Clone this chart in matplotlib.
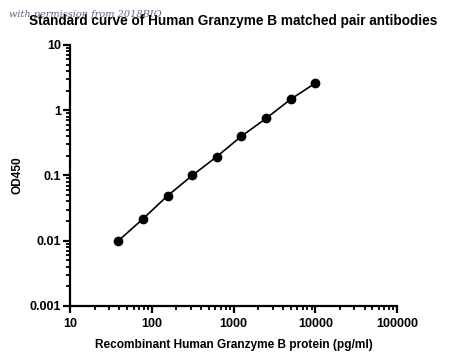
import matplotlib
matplotlib.use("Agg")
import matplotlib.pyplot as plt
from matplotlib.ticker import FixedLocator, FixedFormatter, LogLocator, NullFormatter

# standard curve data (2-fold dilution from 10000 pg/ml)
conc = [39.06, 78.13, 156.25, 312.5, 625, 1250, 2500, 5000, 10000]
od450 = [0.0100, 0.0217, 0.049, 0.100, 0.195, 0.40, 0.75, 1.47, 2.60]

x_ticks = [10, 100, 1000, 10000, 100000]
x_labels = ["10", "100", "1000", "10000", "100000"]
y_ticks = [0.001, 0.01, 0.1, 1, 10]
y_labels = ["0.001", "0.01", "0.1", "1", "10"]

plt.rcParams["font.family"] = ["Liberation Sans", "DejaVu Sans"]

fig = plt.figure(figsize=(4.5, 3.62), dpi=100)
ax = fig.add_axes([0.1556, 0.1547, 0.7267, 0.721])

ax.plot(conc, od450, color="black", linewidth=1.2, marker="o",
        markersize=6, markerfacecolor="black", markeredgecolor="black")

ax.set_xscale("log")
ax.set_yscale("log")
ax.set_xlim(10, 100000)
ax.set_ylim(0.001, 10)

ax.xaxis.set_major_locator(FixedLocator(x_ticks))
ax.xaxis.set_major_formatter(FixedFormatter(x_labels))
ax.yaxis.set_major_locator(FixedLocator(y_ticks))
ax.yaxis.set_major_formatter(FixedFormatter(y_labels))
ax.xaxis.set_minor_locator(LogLocator(base=10, subs=range(2, 10), numticks=20))
ax.yaxis.set_minor_locator(LogLocator(base=10, subs=range(2, 10), numticks=20))
ax.xaxis.set_minor_formatter(NullFormatter())
ax.yaxis.set_minor_formatter(NullFormatter())

for side in ["top", "right"]:
    ax.spines[side].set_visible(False)
for side in ["left", "bottom"]:
    ax.spines[side].set_linewidth(1.6)

ax.tick_params(which="major", direction="out", length=5, width=1.6)
ax.tick_params(axis="x", which="major", pad=4)
ax.tick_params(axis="y", which="major", pad=1.5)
ax.tick_params(which="minor", direction="out", length=3, width=1.3)
for lbl in ax.get_xticklabels() + ax.get_yticklabels():
    lbl.set_fontsize(9)
    lbl.set_fontweight("bold")

ax.set_xlabel("Recombinant Human Granzyme B protein (pg/ml)",
              fontsize=8.6, fontweight="bold", labelpad=6)
ax.set_ylabel("OD450", fontsize=8.6, fontweight="bold", labelpad=4.5)

fig.text(0.518, 0.943, "Standard curve of Human Granzyme B matched pair antibodies",
         ha="center", va="center", fontsize=9.8, fontweight="bold")
# watermark (overlaps the title, as in the original)
fig.text(0.02, 0.96, "with permission from 2018BIO", ha="left", va="center",
         fontsize=7, style="italic", family="DejaVu Serif", color="#3c4a78", alpha=0.85)

fig.savefig("out.png", dpi=100)
